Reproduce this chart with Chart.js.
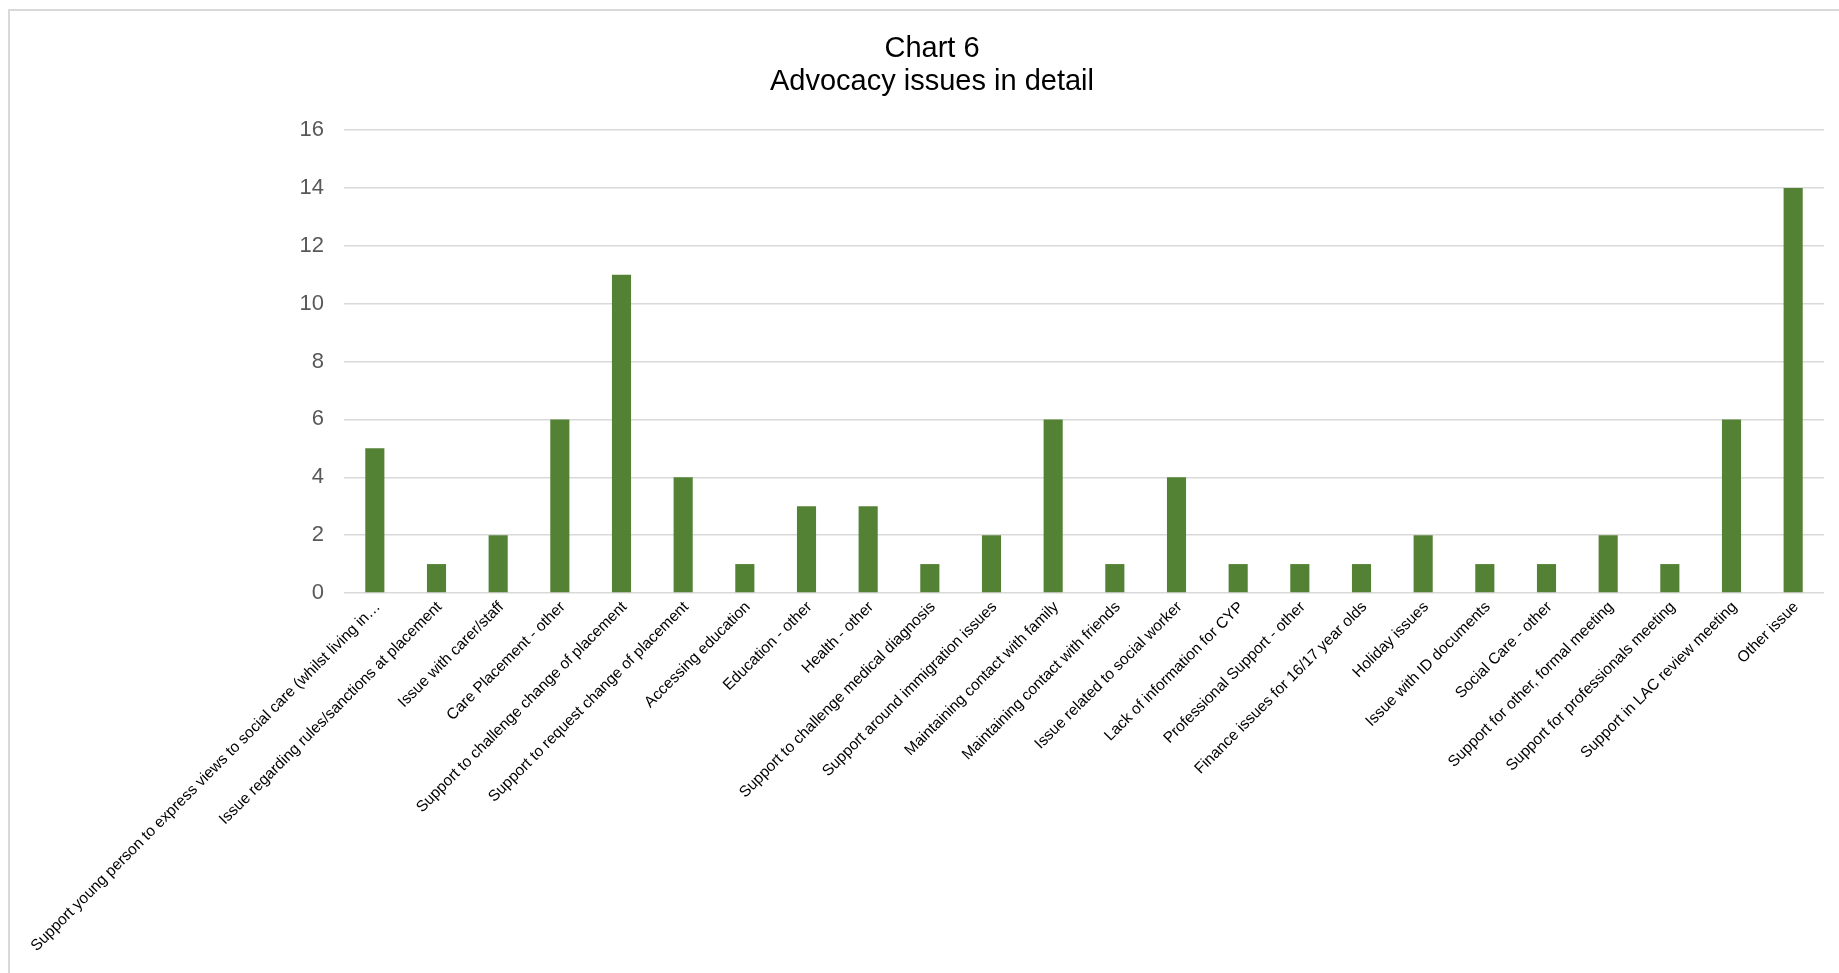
<!DOCTYPE html>
<html>
<head>
<meta charset="utf-8">
<script src="https://cdn.jsdelivr.net/npm/chart.js@4"></script>
<style>
  html, body { margin: 0; padding: 0; background: #fff; overflow: hidden; }
  #frame { position: absolute; left: 8px; top: 9px; width: 1900px; height: 1000px;
           border-left: 2px solid #d9d9d9; border-top: 2px solid #d9d9d9; box-sizing: border-box; }
  #wrap { position: absolute; left: 0; top: 0; width: 1839px; height: 973px; }
</style>
</head>
<body>
<div id="frame"></div>
<div id="wrap"><canvas id="c" width="1839" height="973"></canvas></div>
<script>
// Advocacy issue categories and the number of cases for each
const categories = [
  'Support young person to express views to social care (whilst living in\u2026',
  'Issue regarding rules/sanctions at placement',
  'Issue with carer/staff',
  'Care Placement - other',
  'Support to challenge change of placement',
  'Support to request change of placement',
  'Accessing education',
  'Education - other',
  'Health - other',
  'Support to challenge medical diagnosis',
  'Support around immigration issues',
  'Maintaining contact with family',
  'Maintaining contact with friends',
  'Issue related to social worker',
  'Lack of information for CYP',
  'Professional Support - other',
  'Finance issues for 16/17 year olds',
  'Holiday issues',
  'Issue with ID documents',
  'Social Care - other',
  'Support for other, formal meeting',
  'Support for professionals meeting',
  'Support in LAC review meeting',
  'Other issue'
];
const counts = [5, 1, 2, 6, 11, 4, 1, 3, 3, 1, 2, 6, 1, 4, 1, 1, 1, 2, 1, 1, 2, 1, 6, 14];
const titleLines = ['Chart 6', 'Advocacy issues in detail'];
const yMin = 0, yMax = 16, yStep = 2;

const FONT = '"Liberation Sans", Arial, sans-serif';

new Chart(document.getElementById('c'), {
  type: 'bar',
  data: {
    labels: categories,
    datasets: [{
      data: counts,
      backgroundColor: '#548235',
      borderWidth: 0,
      categoryPercentage: 0.31,
      barPercentage: 1.0
    }]
  },
  options: {
    responsive: false,
    animation: false,
    layout: { padding: { left: 40, right: 15, top: 0, bottom: 0 } },
    plugins: {
      legend: { display: false },
      tooltip: { enabled: false },
      title: {
        display: true,
        text: titleLines,
        color: '#000',
        font: { family: FONT, size: 29, weight: 'normal', lineHeight: 1.14 },
        padding: { top: 32, bottom: 32 }
      }
    },
    scales: {
      x: {
        grid: { display: false },
        border: { display: false },
        ticks: {
          color: '#000',
          font: { family: FONT, size: 15.5 },
          maxRotation: 45, minRotation: 45, autoSkip: false,
          padding: -3, labelOffset: 3
        },
        afterFit: (s) => { s.height = 380; }
      },
      y: {
        min: yMin, max: yMax,
        grid: { color: '#d9d9d9', lineWidth: 1.5, drawTicks: false },
        border: { display: false },
        ticks: {
          stepSize: yStep,
          color: '#595959',
          font: { family: FONT, size: 22 },
          padding: 20
        },
        afterFit: (s) => { s.width = 304; }
      }
    }
  }
});
</script>
</body>
</html>
